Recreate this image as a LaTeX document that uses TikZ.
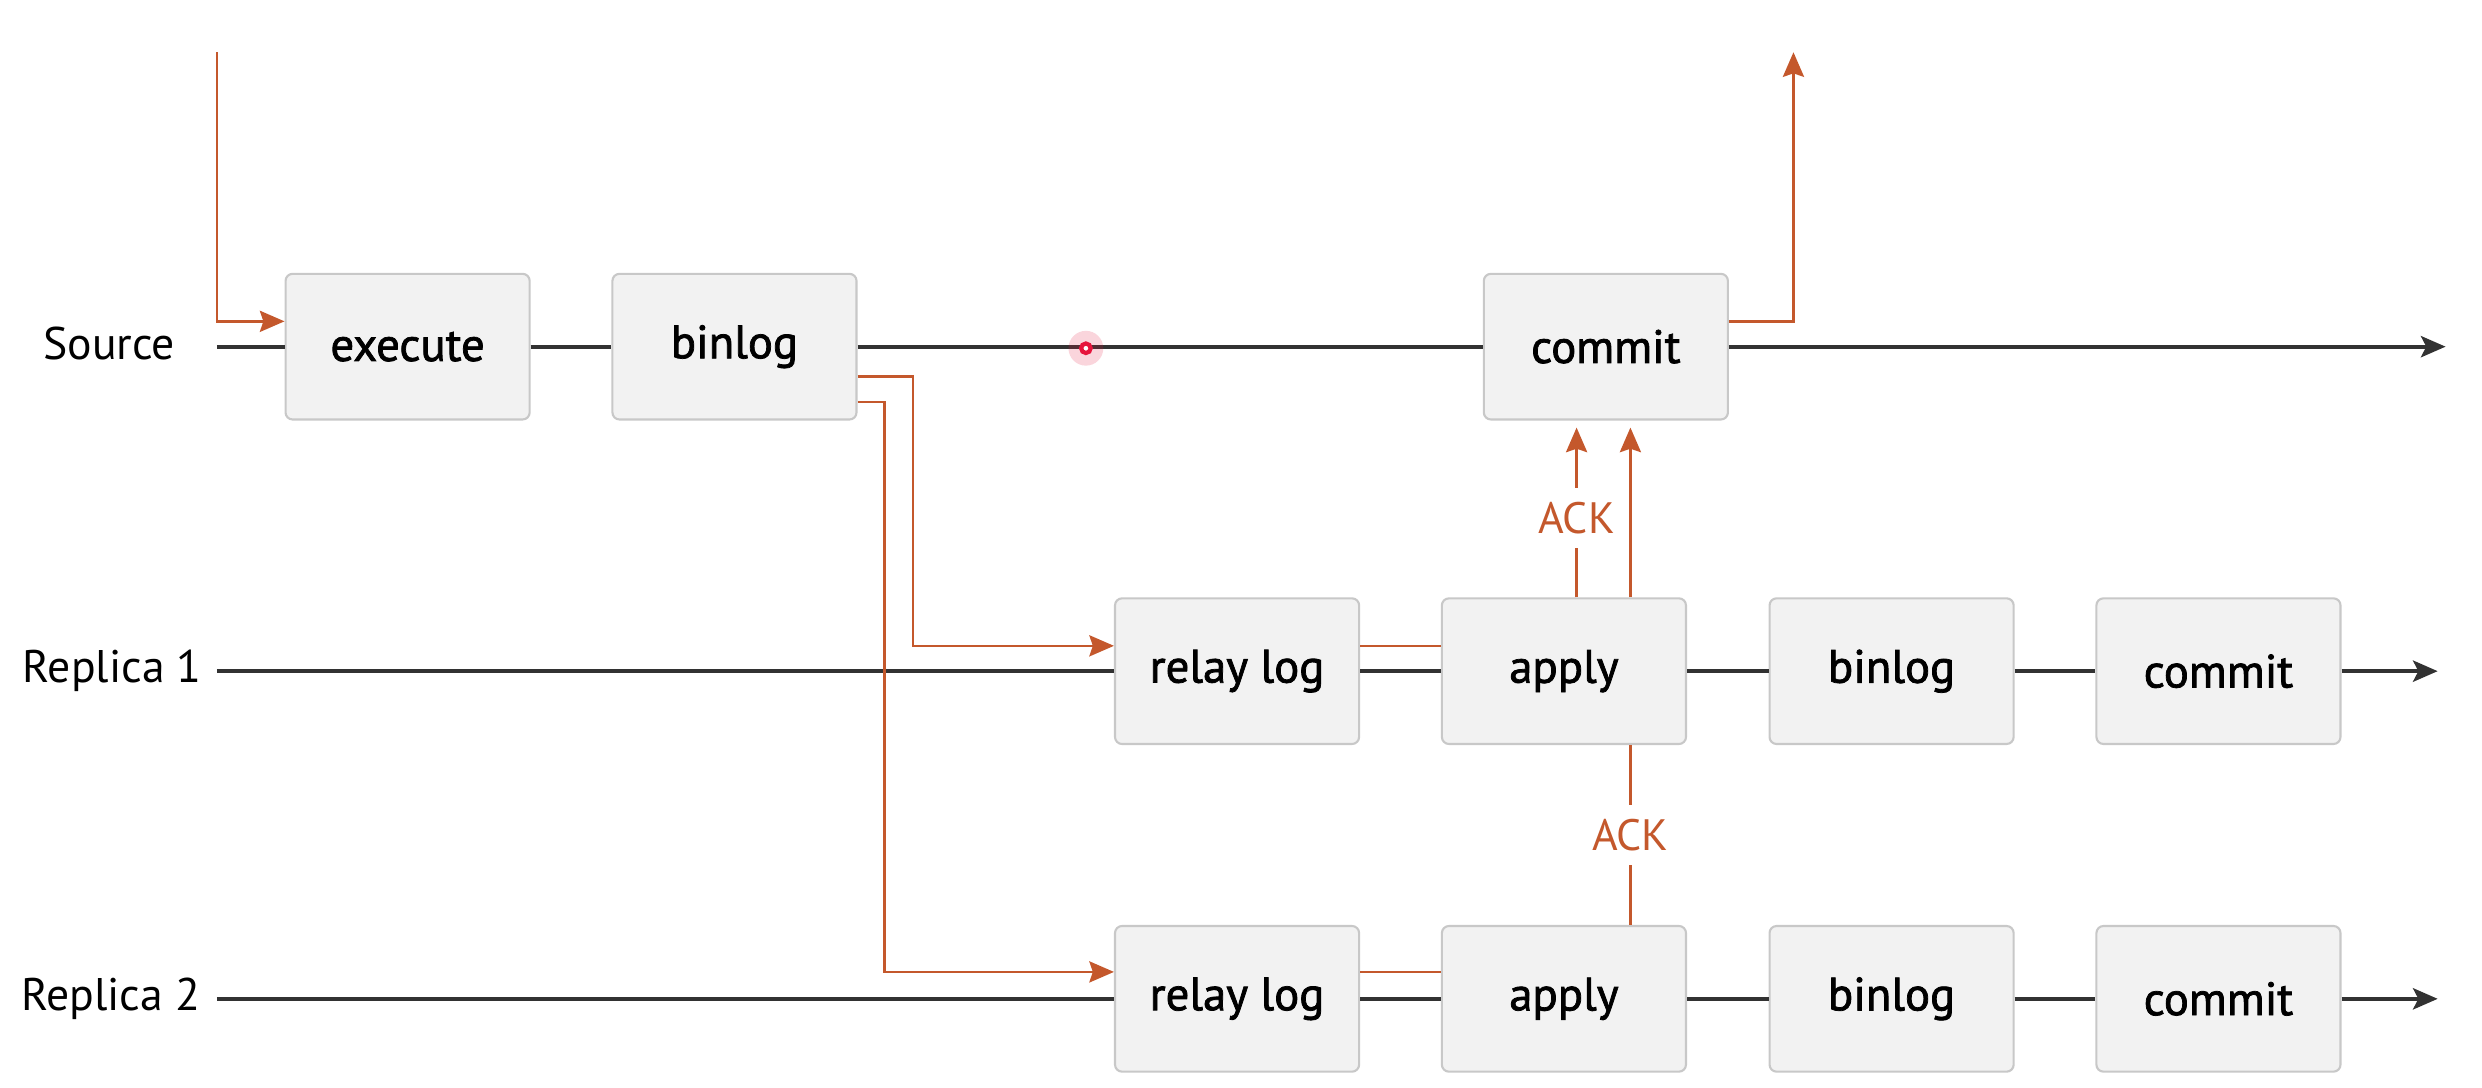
\documentclass[tikz,border=0pt]{standalone}
\usepackage{fontspec}
\setmainfont{PT Sans}
\newfontfamily\medfont{PT Sans}[FakeBold=1.6]
\usetikzlibrary{arrows.meta,calc}
\definecolor{org}{RGB}{196,88,44}
\definecolor{boxfill}{RGB}{242,242,242}
\definecolor{boxline}{RGB}{200,200,200}
\definecolor{lin}{RGB}{50,50,50}
\definecolor{laser}{RGB}{230,20,60}
\begin{document}
\begin{tikzpicture}[x=0.01583cm,y=-0.01583cm,
  box/.style={draw=boxline,fill=boxfill,rounded corners=2pt,minimum width=2.44cm,minimum height=1.456cm,font=\medfont\fontsize{13.3}{15}\selectfont,line width=0.6pt,inner sep=0pt},
  lbl/.style={font=\fontsize{13}{15}\selectfont,inner sep=0pt},
  tl/.style={draw=lin,line width=1.2pt},
  tla/.style={tl,-{Stealth[length=7pt,width=6pt,inset=1.5pt]}},
  og/.style={draw=org,line width=0.75pt},
  oga/.style={og,-{Stealth[length=7pt,width=6pt,inset=1pt]}},
  ack/.style={fill=white,text=org,font=\fontsize{12.5}{14}\selectfont,inner xsep=1pt,inner ysep=4pt}
]
\useasboundingbox (0,0) rectangle (1568,687);

% labels
\node[lbl] (srcL) at (69,217) {Source};
\node[lbl] (r1L) at (71,424) {Replica 1};
\node[lbl] (r2L) at (70,631) {Replica 2};

% line end coordinates
\coordinate (s0) at (137,219);
\coordinate (s1) at (1545,219);
\coordinate (r1a) at (137,424);
\coordinate (r1b) at (1540,424);
\coordinate (r2a) at (137,631);
\coordinate (r2b) at (1540,631);
\coordinate (in0) at (137,33);
\coordinate (out0) at (1133,33);

% boxes
\node[box] (exec) at (257.5,219) {execute};
\node[box] (sbin) at (464,219) {binlog};
\node[box] (scm) at (1014.5,219) {commit};

\node[box] (rl1) at (781.5,424) {relay log};
\node[box] (ap1) at (988,424) {apply};
\node[box] (bl1) at (1195,424) {binlog};
\node[box] (cm1) at (1401.5,424) {commit};

\node[box] (rl2) at (781.5,631) {relay log};
\node[box] (ap2) at (988,631) {apply};
\node[box] (bl2) at (1195,631) {binlog};
\node[box] (cm2) at (1401.5,631) {commit};

% timelines
\draw[tl] (s0) -- (exec) (exec) -- (sbin) (sbin) -- (scm);
\draw[tla] (scm) -- (s1);
\draw[tl] (r1a) -- (rl1) (rl1) -- (ap1) (ap1) -- (bl1) (bl1) -- (cm1);
\draw[tla] (cm1) -- (r1b);
\draw[tl] (r2a) -- (rl2) (rl2) -- (ap2) (ap2) -- (bl2) (bl2) -- (cm2);
\draw[tla] (cm2) -- (r2b);

% orange flows
\draw[oga] (in0) |- ($(exec.west)+(0,-16)$);
\draw[oga] ($(scm.east)+(0,-16)$) -| (out0);
\draw[oga] ($(sbin.east)+(0,19)$) -- ++(35,0) |- ($(rl1.west)+(0,-16)$);
\draw[oga] ($(sbin.east)+(0,35)$) -- ++(17,0) |- ($(rl2.west)+(0,-17)$);
\draw[og] ($(rl1.east)+(0,-16)$) -- ($(ap1.west)+(0,-16)$);
\draw[og] ($(rl2.east)+(0,-17)$) -- ($(ap2.west)+(0,-17)$);

% ACKs
\coordinate (k1) at ($(ap1.north)+(8,0)$);
\coordinate (k2) at ($(ap1.north)+(42,0)$);
\draw[oga,shorten >=2pt] (k1) -- node[ack,pos=0.45]{ACK} (k1 |- scm.south);
\draw[oga,shorten >=2pt] (k2) -- (k2 |- scm.south);
\draw[og] ($(ap2.north)+(42,0)$) -- node[ack]{ACK} ($(ap1.south)+(42,0)$);

% laser pointer dot
\fill[laser,opacity=0.18] (686,220) circle (11);
\draw[laser,line width=1.2pt,fill=white] (686,220) circle (3);
\end{tikzpicture}
\end{document}
